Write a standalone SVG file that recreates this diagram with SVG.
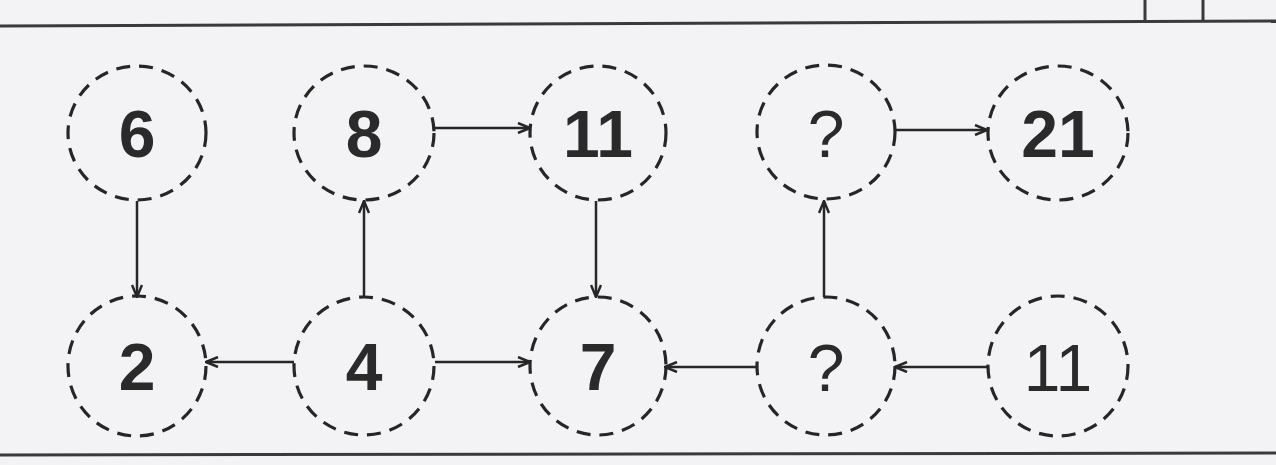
<svg xmlns="http://www.w3.org/2000/svg" width="1276" height="465" viewBox="0 0 1276 465">
<defs>
<marker id="ah" viewBox="0 0 14 12" refX="13" refY="6" markerWidth="14" markerHeight="12" markerUnits="userSpaceOnUse" orient="auto">
<path d="M1,1 L13,6 L1,11" fill="none" stroke="#262626" stroke-width="2.5"/>
</marker>
<style>
.n{fill:none;stroke:#262626;stroke-width:3.2;stroke-dasharray:14 9}
.t{font-family:"Liberation Sans",Arial,sans-serif;font-size:66px;font-weight:bold;fill:#2a2a2a;text-anchor:middle}
.tl{font-weight:normal}
.c{stroke:#262626;stroke-width:2.5;fill:none;marker-end:url(#ah)}
.f{stroke:#3a3a3a;stroke-width:3;fill:none}
</style>
</defs>
<rect width="1276" height="465" fill="#f3f3f5"/>
<g id="frame">
<path class="f" d="M0,26 L1276,21"/>
<path class="f" d="M1145,0 L1145,21 M1203,0 L1203,21"/>
<path class="f" d="M0,455 L1276,453" stroke="#555"/>
</g>
<g id="connectors">
<line class="c" x1="137" y1="201" x2="137" y2="297"/>
<line class="c" x1="364" y1="297" x2="364" y2="201"/>
<line class="c" x1="435" y1="128" x2="530" y2="128"/>
<line class="c" x1="596" y1="201" x2="596" y2="297"/>
<line class="c" x1="895" y1="130" x2="987" y2="130"/>
<line class="c" x1="824" y1="297" x2="824" y2="201"/>
<line class="c" x1="294" y1="362" x2="206" y2="362"/>
<line class="c" x1="435" y1="362" x2="530" y2="362"/>
<line class="c" x1="756" y1="367" x2="665" y2="367"/>
<line class="c" x1="988" y1="367" x2="895" y2="367"/>
</g>
<g id="n6"><ellipse class="n" cx="137" cy="133" rx="69" ry="67"/><text class="t" x="137" y="157">6</text></g>
<g id="n8"><ellipse class="n" cx="364" cy="133" rx="70" ry="67"/><text class="t" x="364" y="157">8</text></g>
<g id="n11a"><ellipse class="n" cx="598" cy="133" rx="68" ry="67"/><text class="t" x="598" y="157">11</text></g>
<g id="nq1"><ellipse class="n" cx="826" cy="132" rx="69" ry="67"/><text class="t tl" x="826" y="157">?</text></g>
<g id="n21"><ellipse class="n" cx="1058" cy="133" rx="70" ry="67"/><text class="t" x="1058" y="157">21</text></g>
<g id="n2"><ellipse class="n" cx="137" cy="366" rx="69" ry="70"/><text class="t" x="137" y="390">2</text></g>
<g id="n4"><ellipse class="n" cx="364" cy="366" rx="70" ry="69"/><text class="t" x="364" y="390">4</text></g>
<g id="n7"><ellipse class="n" cx="598" cy="366" rx="68" ry="69"/><text class="t" x="598" y="390">7</text></g>
<g id="nq2"><ellipse class="n" cx="826" cy="366" rx="69" ry="69"/><text class="t tl" x="826" y="391">?</text></g>
<g id="n11b"><ellipse class="n" cx="1058" cy="366" rx="70" ry="70"/><text class="t tl" x="1058" y="391">11</text></g>
</svg>
